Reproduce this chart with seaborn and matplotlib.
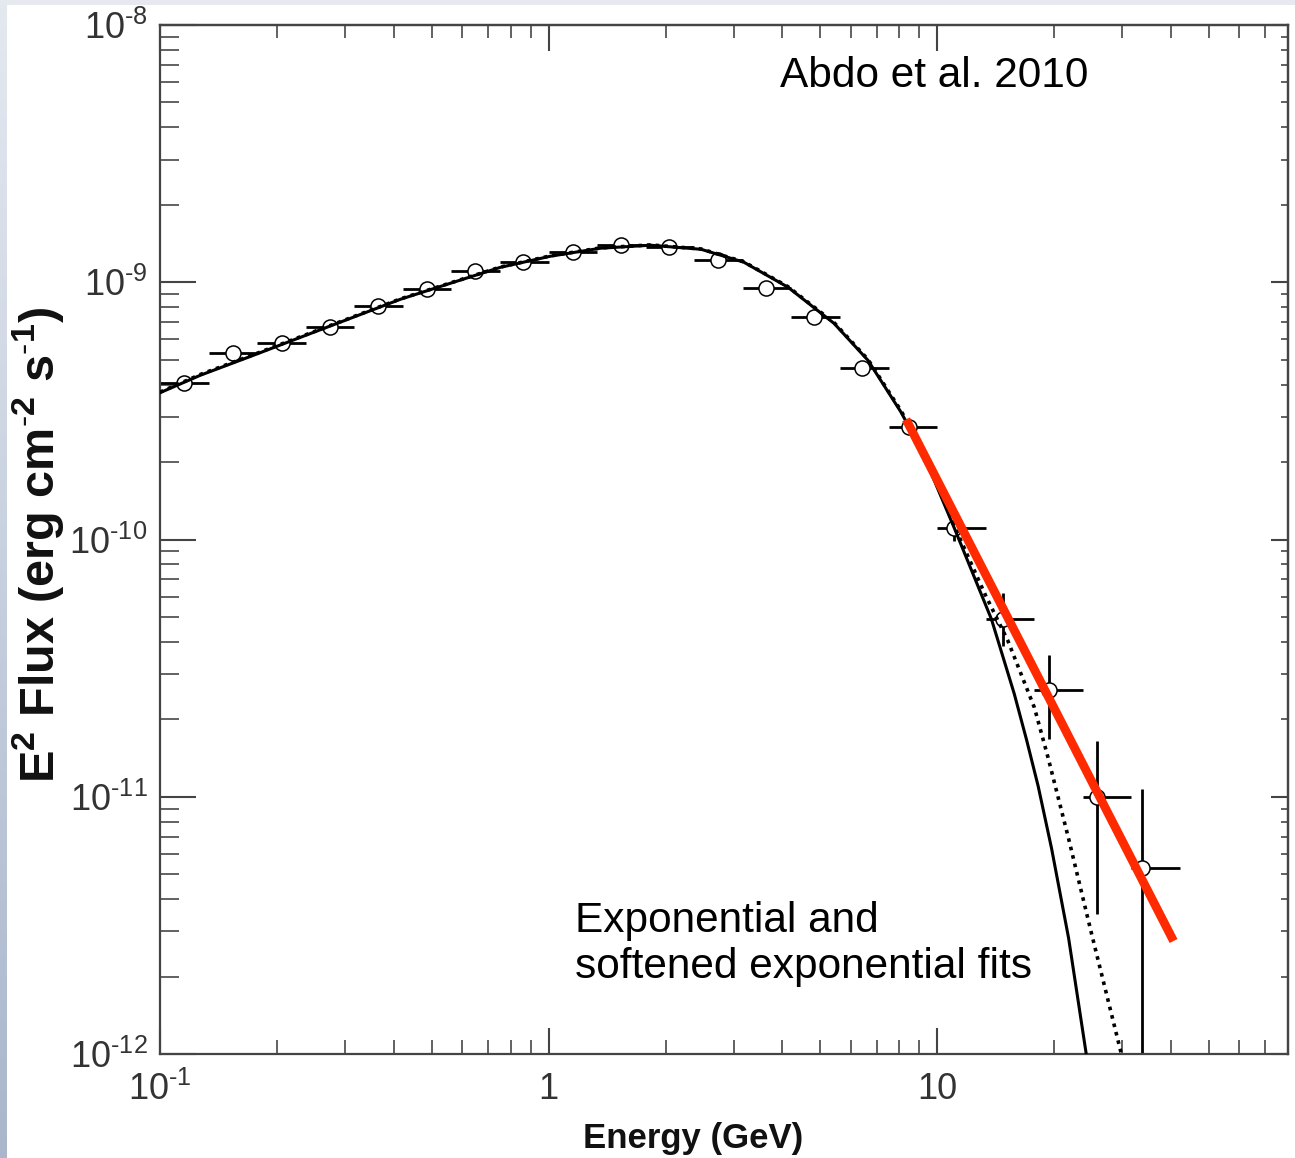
import numpy as np
import matplotlib
matplotlib.use("Agg")
import matplotlib.pyplot as plt
import seaborn as sns
from matplotlib.ticker import LogLocator, NullFormatter, FixedLocator
from matplotlib.patches import Rectangle
from matplotlib.colors import LinearSegmentedColormap

# ---------------- data ----------------
energy = [0.115, 0.154, 0.206, 0.274, 0.365, 0.488, 0.648, 0.862, 1.153, 1.533,
          2.04, 2.73, 3.62, 4.82, 6.41, 8.47, 11.07, 14.8, 19.4, 25.8, 33.7]
flux = [4.05e-10, 5.30e-10, 5.79e-10, 6.68e-10, 8.07e-10, 9.40e-10, 1.104e-9, 1.197e-9,
        1.310e-9, 1.393e-9, 1.368e-9, 1.219e-9, 9.48e-10, 7.31e-10, 4.63e-10, 2.73e-10,
        1.104e-10, 4.93e-11, 2.61e-11, 1.0e-11, 5.3e-12]
bin_lo = [0.1, 0.1334, 0.1778, 0.2371, 0.3162, 0.4217, 0.5623, 0.7499, 1.0, 1.334,
          1.778, 2.371, 3.162, 4.217, 5.623, 7.499, 10.0, 13.34, 17.78, 23.71, 31.62]
bin_hi = [0.1334, 0.1778, 0.2371, 0.3162, 0.4217, 0.5623, 0.7499, 1.0, 1.334, 1.778,
          2.371, 3.162, 4.217, 5.623, 7.499, 10.0, 13.34, 17.78, 23.71, 31.62, 42.17]
flux_lo = [3.97e-10, 5.20e-10, 5.68e-10, 6.56e-10, 7.93e-10, 9.24e-10, 1.085e-9, 1.177e-9,
           1.288e-9, 1.370e-9, 1.345e-9, 1.198e-9, 9.30e-10, 7.16e-10, 4.53e-10, 2.67e-10,
           0.99e-10, 3.87e-11, 1.68e-11, 3.51e-12, 1e-13]
flux_hi = [4.13e-10, 5.40e-10, 5.90e-10, 6.80e-10, 8.21e-10, 9.56e-10, 1.123e-9, 1.217e-9,
           1.332e-9, 1.416e-9, 1.391e-9, 1.240e-9, 9.66e-10, 7.46e-10, 4.73e-10, 2.79e-10,
           1.22e-10, 6.2e-11, 3.57e-11, 1.65e-11, 1.07e-11]

# exponential cutoff fit (solid)
expo_E = [0.100, 0.127, 0.171, 0.230, 0.309, 0.416, 0.559, 0.752, 1.01, 1.36, 1.83, 2.47,
          3.18, 4.13, 5.43, 6.64, 8.07, 9.10, 11.07, 13.8, 15.8, 17.0, 18.2, 19.7, 21.8, 24.2]
expo_F = [3.72e-10, 4.35e-10, 5.15e-10, 6.11e-10, 7.24e-10, 8.59e-10, 9.91e-10, 1.143e-9,
          1.262e-9, 1.356e-9, 1.393e-9, 1.343e-9, 1.197e-9, 9.57e-10, 6.92e-10, 4.97e-10,
          3.13e-10, 2.24e-10, 1.109e-10, 4.90e-11, 2.51e-11, 1.66e-11, 1.10e-11, 6.31e-12,
          2.82e-12, 1.0e-12]
# softened exponential fit (dotted)
soft_E = [0.100, 0.127, 0.171, 0.230, 0.309, 0.416, 0.559, 0.752, 1.01, 1.36, 1.83, 2.47,
          3.18, 4.13, 5.43, 6.64, 8.07, 9.10, 11.07, 13.3, 15.2, 17.8, 19.3, 21.8, 24.9, 29.8]
soft_F = [3.74e-10, 4.38e-10, 5.18e-10, 6.14e-10, 7.27e-10, 8.62e-10, 9.94e-10, 1.146e-9,
          1.266e-9, 1.360e-9, 1.397e-9, 1.347e-9, 1.201e-9, 9.62e-10, 6.97e-10, 5.01e-10,
          3.17e-10, 2.29e-10, 1.13e-10, 6.1e-11, 4.05e-11, 2.22e-11, 1.42e-11, 6.87e-12,
          2.99e-12, 1.0e-12]
# red power-law line
pl_E = [8.32, 40.6]
pl_F = [2.93e-10, 2.75e-12]

xticks = [0.1, 1, 10]
xticklabels = [r'$10^{\text{-}1}$', '1', '10']
yticks = [1e-12, 1e-11, 1e-10, 1e-9, 1e-8]
yticklabels = [r'$10^{\text{-}12}$', r'$10^{\text{-}11}$', r'$10^{\text{-}10}$',
               r'$10^{\text{-}9}$', r'$10^{\text{-}8}$']

# ---------------- style ----------------
sns.set_theme(style="ticks")
plt.rcParams['font.family'] = ['Liberation Sans', 'DejaVu Sans']
plt.rcParams['mathtext.fontset'] = 'custom'
plt.rcParams['mathtext.rm'] = 'Liberation Sans'
plt.rcParams['mathtext.it'] = 'Liberation Sans:italic'
plt.rcParams['mathtext.bf'] = 'Liberation Sans:bold'

W, H = 1295, 1158
fig = plt.figure(figsize=(W / 100, H / 100), dpi=100, facecolor='white')

# slide-like background strips
fig.patches.append(Rectangle((0, 1 - 5 / H), 1, 5 / H, transform=fig.transFigure,
                             facecolor='#E6EAF0', edgecolor='none', zorder=-5))
bg = fig.add_axes([0, 0, 7 / W, 1], zorder=-4)
grad = np.linspace(0, 1, 256).reshape(-1, 1)
cmap = LinearSegmentedColormap.from_list('bg', ['#E4E9F0', '#A9B6CC'])
bg.imshow(grad, aspect='auto', cmap=cmap, extent=[0, 1, 0, 1], origin='upper')
bg.axis('off')

ax = fig.add_axes([160 / W, 1 - 1054 / H, (1288 - 160) / W, (1054 - 25) / H])
ax.set_xscale('log')
ax.set_yscale('log')
ax.set_xlim(0.1, 80)
ax.set_ylim(1e-12, 1e-8)

# data points with error bars
E = np.array(energy)
F = np.array(flux)
xerr = [E - np.array(bin_lo), np.array(bin_hi) - E]
yerr = [F - np.array(flux_lo), np.array(flux_hi) - F]
ax.errorbar(E, F, xerr=xerr, yerr=yerr, fmt='none', ecolor='black',
            elinewidth=2.0, capsize=0, zorder=2)
sns.scatterplot(x=energy, y=flux, ax=ax, marker='o', s=118, facecolor='white',
                edgecolor='black', linewidth=1.1, zorder=3)

# fits
sns.lineplot(x=expo_E, y=expo_F, ax=ax, color='black', linewidth=2.2,
             sort=False, estimator=None, zorder=4)
sns.lineplot(x=soft_E, y=soft_F, ax=ax, color='black', linewidth=2.6,
             linestyle=(0, (1.0, 1.4)), sort=False, estimator=None, zorder=4)
sns.lineplot(x=pl_E, y=pl_F, ax=ax, color='#FF2A00', linewidth=6.3,
             sort=False, estimator=None, zorder=5, solid_capstyle='butt')

# axes styling
for s in ax.spines.values():
    s.set_color('#444444')
    s.set_linewidth(1.6)

ax.xaxis.set_major_locator(FixedLocator(xticks))
ax.set_xticklabels(xticklabels)
ax.xaxis.set_minor_locator(LogLocator(base=10, subs=range(2, 10), numticks=20))
ax.xaxis.set_minor_formatter(NullFormatter())
ax.yaxis.set_major_locator(FixedLocator(yticks))
ax.set_yticklabels(yticklabels)
ax.yaxis.set_minor_locator(LogLocator(base=10, subs=range(2, 10), numticks=20))
ax.yaxis.set_minor_formatter(NullFormatter())

ax.tick_params(axis='x', which='major', direction='in', length=19, width=1.5,
               color='#444444', labelsize=26, labelcolor='#333333', pad=13,
               top=False, bottom=True)
ax.tick_params(axis='x', which='minor', direction='in', length=10, width=1.3,
               color='#555555', top=False, bottom=True)
ax.tick_params(axis='y', which='major', direction='in', length=26, width=1.5,
               color='#444444', labelsize=26, labelcolor='#333333', pad=9,
               right=False, left=True)
ax.tick_params(axis='y', which='minor', direction='in', length=14, width=1.3,
               color='#555555', right=False, left=True)

# top and right tick marks (different lengths)
secx = ax.secondary_xaxis('top')
secx.xaxis.set_major_locator(FixedLocator(xticks))
secx.xaxis.set_minor_locator(LogLocator(base=10, subs=range(2, 10), numticks=20))
secx.xaxis.set_major_formatter(NullFormatter())
secx.xaxis.set_minor_formatter(NullFormatter())
secx.tick_params(which='major', direction='in', length=19, width=1.5, color='#444444')
secx.tick_params(which='minor', direction='in', length=9, width=1.3, color='#555555')
secx.spines['top'].set_color('#444444')
secx.spines['top'].set_linewidth(1.6)

secy = ax.secondary_yaxis('right')
secy.yaxis.set_major_locator(FixedLocator(yticks))
secy.yaxis.set_minor_locator(LogLocator(base=10, subs=range(2, 10), numticks=20))
secy.yaxis.set_major_formatter(NullFormatter())
secy.yaxis.set_minor_formatter(NullFormatter())
secy.tick_params(which='major', direction='in', length=12, width=1.5, color='#444444')
secy.tick_params(which='minor', direction='in', length=5, width=1.3, color='#555555')
secy.spines['right'].set_color('#444444')
secy.spines['right'].set_linewidth(1.6)

# labels
ax.set_xlabel('Energy (GeV)', fontsize=25, fontweight='bold', color='#111111')
ax.xaxis.set_label_coords(0.473, -0.066)
ax.set_ylabel(r'$\mathbf{E^2}$ Flux (erg cm$^{\mathbf{\text{-}2}}$ s$^{\mathbf{\text{-}1}}$)',
              fontsize=35, fontweight='bold', color='#111111')
ax.yaxis.set_label_coords(-0.083, 0.495)

# annotations
ax.text(0.5496, 0.9397, 'Abdo et al. 2010', transform=ax.transAxes,
        fontsize=30.5, color='black', ha='left', va='baseline')
ax.text(0.368, 0.1186, 'Exponential and', transform=ax.transAxes,
        fontsize=30.5, color='black', ha='left', va='baseline')
ax.text(0.368, 0.0739, 'softened exponential fits', transform=ax.transAxes,
        fontsize=30.5, color='black', ha='left', va='baseline')

fig.savefig('out.png', dpi=100, facecolor=fig.get_facecolor())
